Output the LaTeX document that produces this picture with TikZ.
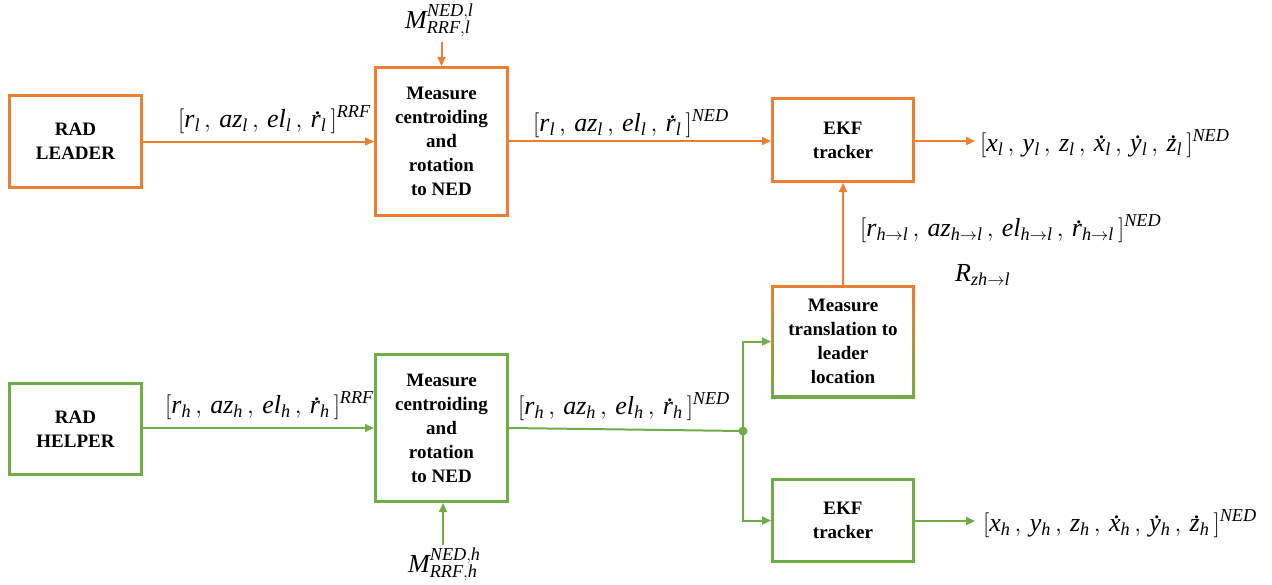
\documentclass[tikz,border=0pt]{standalone}
\usepackage{fontspec}
\setmainfont{Liberation Serif}
\usetikzlibrary{arrows.meta}
\definecolor{ora}{RGB}{237,125,49}
\definecolor{grn}{RGB}{112,173,71}
\newcommand\dt[1]{\mbox{\ooalign{\textit{#1}\cr\hidewidth\kern0.14em\raisebox{0.47em}{.}\hidewidth\cr}}}
\newcommand\cm{\,,\,}
\begin{document}
\begin{tikzpicture}[x=1pt,y=-1pt,
  blk/.style={draw, line width=3pt, align=center, inner sep=0pt,
    font=\bfseries\fontsize{19}{24}\selectfont},
  conn/.style={line width=2pt, -{Triangle[length=9pt,width=8pt]}},
  lbl/.style={anchor=base west, inner sep=0pt, font=\fontsize{26}{30}\selectfont},
]
\useasboundingbox (0,0) rectangle (1272,584);
% boxes (leader, orange)
\node[blk, draw=ora, minimum width=132pt, minimum height=92pt] (rl) at (75.5,141.5) {RAD\\LEADER};
\node[blk, draw=ora, minimum width=132pt, minimum height=148pt] (mt) at (441.5,141.5) {Measure\\centroiding\\and\\rotation\\to NED};
\node[blk, draw=ora, minimum width=141pt, minimum height=83pt] (et) at (843,140) {EKF\\tracker};
% translation box with gradient border
\shade[top color=ora, bottom color=grn] (771,285) rectangle (915,398);
\fill[white] (774,288) rectangle (912,395);
\node[blk, draw=none, minimum width=141pt, minimum height=110pt] (tr) at (843,341.5) {Measure\\translation to\\leader\\location};
% boxes (helper, green)
\node[blk, draw=grn, minimum width=132pt, minimum height=91pt] (rh) at (75.5,429) {RAD\\HELPER};
\node[blk, draw=grn, minimum width=132pt, minimum height=147pt] (mb) at (441.5,428) {Measure\\centroiding\\and\\rotation\\to NED};
\node[blk, draw=grn, minimum width=141pt, minimum height=82pt] (eb) at (843,520.5) {EKF\\tracker};
% coordinates
\coordinate (mtin) at (441.5,42);
\coordinate (otop) at (975,141);
\coordinate (dot) at (743,431);
\coordinate (obot) at (975,521);
\coordinate (mbin) at (443,545);
% orange connectors
\draw[conn, ora] (rl.east) -- (rl.east -| mt.west);
\draw[conn, ora] (mtin) -- (mt.north);
\draw[conn, ora] (mt.east |- 0,141) -- (et.west |- 0,141);
\draw[conn, ora] (et.east |- otop) -- (otop);
\draw[conn, ora] (tr.north) -- (et.south);
% green connectors
\draw[conn, grn] (rh.east |- 0,428) -- (mb.west);
\draw[conn, grn] (mbin) -- (mbin |- mb.south);
\draw[line width=2pt, grn] (mb.east) -- (dot);
\fill[grn] (dot) circle (4.5pt);
\draw[conn, grn] (dot) |- (tr.west);
\draw[conn, grn] (dot) |- (eb.west);
\draw[conn, grn] (eb.east |- obot) -- (obot);
% labels
\node[lbl] (lrt) at (178,127) {$\mathit{[r_l\cm az_l\cm el_l\cm \dt{r}_l\,]^{RRF}}$};
\node[lbl] (lnt) at (533,131) {$\mathit{[r_l\cm az_l\cm el_l\cm \dt{r}_l\,]^{NED}}$};
\node[lbl] (lot) at (980,151) {$\mathit{[x_l\cm y_l\cm z_l\cm \dt{x}_l\cm \dt{y}_l\cm \dt{z}_l\,]^{NED}}$};
\node[lbl] (lhl) at (860,236) {$\mathit{[r_{h\to l}\cm az_{h\to l}\cm el_{h\to l}\cm \dt{r}_{h\to l}\,]^{NED}}$};
\node[lbl] (lrz) at (955,281) {$\mathit{R_{zh\to l}}$};
\node[lbl] (lrb) at (165,413) {$\mathit{[r_h\cm az_h\cm el_h\cm \dt{r}_h\,]^{RRF}}$};
\node[lbl] (lnb) at (518,414) {$\mathit{[r_h\cm az_h\cm el_h\cm \dt{r}_h\,]^{NED}}$};
\node[lbl] (lob) at (983,531) {$\mathit{[x_h\cm y_h\cm z_h\cm \dt{x}_h\cm \dt{y}_h\cm \dt{z}_h\,]^{NED}}$};
\node[lbl] (lmt) at (405,28) {$\mathit{M^{NED,l}_{RRF,l}}$};
\node[lbl] (lmb) at (408,572) {$\mathit{M^{NED,h}_{RRF,h}}$};
\end{tikzpicture}
\end{document}
